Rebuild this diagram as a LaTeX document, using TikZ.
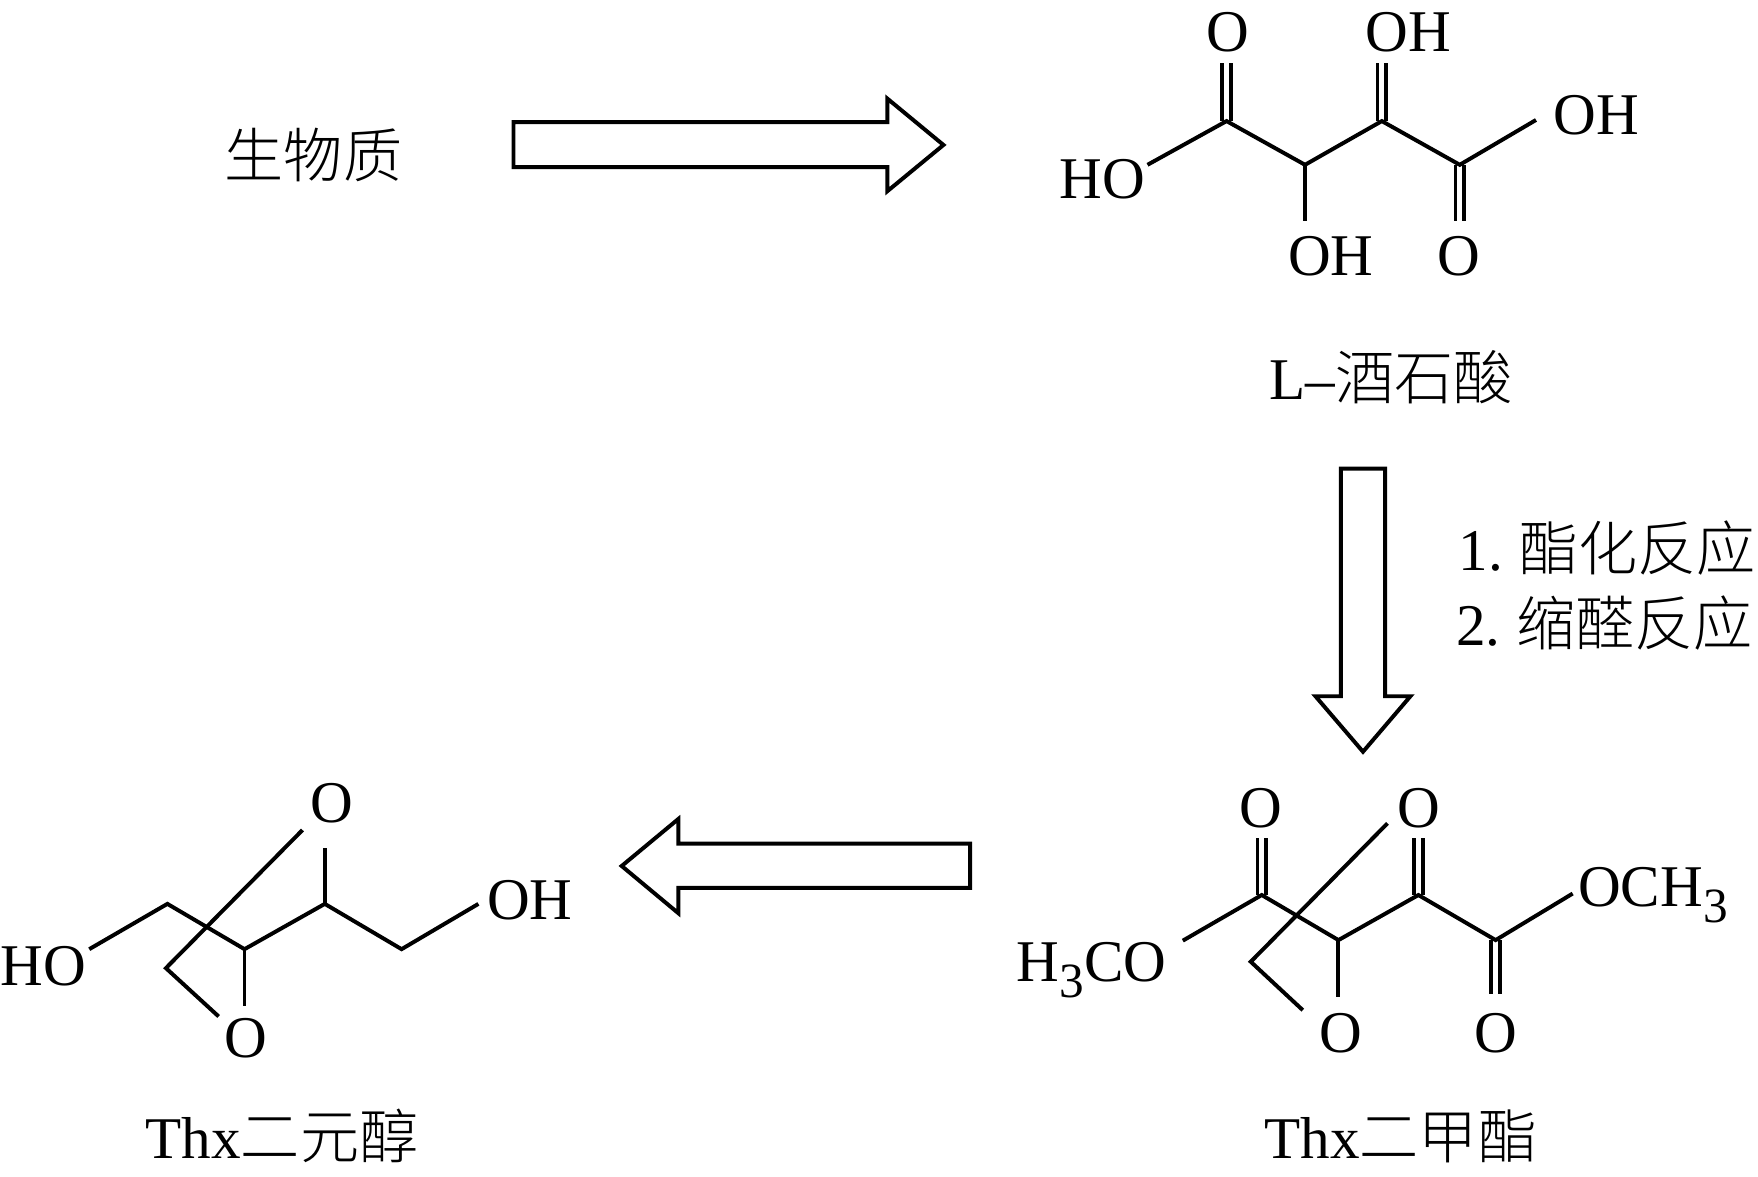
\documentclass[tikz,border=0pt]{standalone}
\usepackage{fontspec}
\setmainfont{Liberation Serif}
\newfontfamily\cjk{Noto Sans CJK SC Light}
\newcommand\fs{\fontsize{15}{18}\selectfont}
\newcommand\chemsub[1]{\raisebox{-4.3pt}{\fontsize{12.5}{12.5}\selectfont #1}}
\newcommand\dbond[2]{%
  \draw[dbl] ([xshift=-0.039cm]#1) -- ([xshift=-0.039cm]#2);
  \draw[dbl] ([xshift=0.039cm]#1) -- ([xshift=0.039cm]#2);}
\begin{document}
\begin{tikzpicture}[x=0.01cm,y=-0.01cm,
  bond/.style={line width=1.0pt},
  dbl/.style={line width=0.9pt},
  blockarrow/.style={line width=1.0pt, miter limit=10},
  lab/.style={inner sep=0pt, font=\fs, text height=9.9pt, text depth=0pt},
  txt/.style={inner sep=0pt, font=\fs, text height=11.4pt, text depth=0pt},
]
\useasboundingbox (0,0) rectangle (1568,1049);

% ---------- biomass ----------
\node[txt] (bio) at (279.6,138) {\cjk 生物质};

% ---------- right block arrow ----------
\draw[blockarrow] (458,109) -- (791.5,109) -- (791.5,88) -- (841.5,129.3)
  -- (791.5,170.5) -- (791.5,149) -- (458,149) -- cycle;

% ---------- L-tartaric acid ----------
\coordinate (tC1) at (1094,108);
\coordinate (tC2) at (1164,147);
\coordinate (tC3) at (1232.5,108);
\coordinate (tC4) at (1302,147);
\coordinate (tHOe) at (1023.5,147);
\coordinate (tOHe) at (1370,107);
\coordinate (tC1u) at (1094,56.5);
\coordinate (tC3u) at (1232.5,56.5);
\coordinate (tC2d) at (1164,197.5);
\coordinate (tC4d) at (1302,197.5);
\draw[bond] (tHOe) -- (tC1) -- (tC2) -- (tC3) -- (tC4) -- (tOHe);
\draw[bond] (tC2) -- (tC2d);
\dbond{tC1}{tC1u}
\dbond{tC3}{tC3u}
\dbond{tC4}{tC4d}
\node[lab] (tO1) at (1095.5,28.2) {O};
\node[lab] (tOH1) at (1256,28.2) {OH};
\node[lab] (tOH2) at (1424,102.5) {OH};
\node[lab] (tHO) at (983,159.5) {HO};
\node[lab] (tOH3) at (1187,228) {OH};
\node[lab] (tO2) at (1301.5,228.7) {O};
\node[txt] (tname) at (1241,336) {L–{\cjk 酒石酸}};

% ---------- down block arrow ----------
\draw[blockarrow] (1196,418) -- (1235.5,418) -- (1235.5,621) -- (1258,621)
  -- (1215.7,670.5) -- (1173.3,621) -- (1196,621) -- cycle;
\node[txt, anchor=west] (cond1) at (1300.6,489) {1.\kern4pt{\cjk 酯化反应}};
\node[txt, anchor=west] (cond2) at (1298,556) {2.\kern4pt{\cjk 缩醛反应}};

% ---------- Thx dimethyl ester ----------
\coordinate (eCa) at (1125.4,798.3);
\coordinate (eCb) at (1193.8,838.5);
\coordinate (eCc) at (1265.1,798.3);
\coordinate (eCd) at (1334,838.5);
\coordinate (eLe) at (1055,839);
\coordinate (eRe) at (1402.7,797);
\coordinate (eCau) at (1125.4,747.8);
\coordinate (eCcu) at (1265.1,747.8);
\coordinate (eCdd) at (1334,887);
\coordinate (eCbd) at (1193.8,889);
\coordinate (er1) at (1237.5,734.4);
\coordinate (er2) at (1115.6,857.8);
\coordinate (er3) at (1162,901);
\draw[bond] (eLe) -- (eCa) -- (eCb) -- (eCc) -- (eCd) -- (eRe);
\draw[bond] (eCb) -- (eCbd);
\draw[bond] (er1) -- (er2) -- (er3);
\dbond{eCa}{eCau}
\dbond{eCc}{eCcu}
\dbond{eCd}{eCdd}
\node[lab] (eO1) at (1124.5,721) {O};
\node[lab] (eO2) at (1265.7,721) {O};
\node[lab, anchor=east] (eH3CO) at (1041,857.6) {H\chemsub{3}CO};
\node[lab, anchor=west] (eOCH3) at (1407,790.7) {OCH\chemsub{3}};
\node[lab] (eO3) at (1195.9,921.5) {O};
\node[lab] (eO4) at (1334,921.5) {O};
\node[txt] (ename) at (1249.5,1013.5) {Thx{\cjk 二甲酯}};

% ---------- left block arrow ----------
\draw[blockarrow] (865.2,752.5) -- (605,752.5) -- (605,730.5) -- (554.5,772.4)
  -- (605,814.5) -- (605,792) -- (865.2,792) -- cycle;

% ---------- Thx diol ----------
\coordinate (dC1) at (149.3,806.2);
\coordinate (dC2) at (218.1,846.6);
\coordinate (dC3) at (289.7,806.2);
\coordinate (dC4) at (358.2,846.6);
\coordinate (dLe) at (79.6,846.6);
\coordinate (dRe) at (426.7,806.2);
\coordinate (dC3u) at (289.7,756.6);
\coordinate (dC2d) at (218.1,897);
\coordinate (ds1) at (269.8,740.3);
\coordinate (ds2) at (148,863.5);
\coordinate (ds3) at (195,906.6);
\draw[bond] (dLe) -- (dC1) -- (dC2) -- (dC3) -- (dC4) -- (dRe);
\draw[bond] (dC3) -- (dC3u);
\draw[bond] (dC2) -- (dC2d);
\draw[bond] (ds1) -- (ds2) -- (ds3);
\node[lab, anchor=east] (dHO) at (77.6,862) {HO};
\node[lab, anchor=west] (dOH) at (433.8,802.7) {OH};
\node[lab] (dO1) at (296,716.5) {O};
\node[lab] (dO2) at (218.9,926) {O};
\node[txt] (dname) at (251.5,1013.5) {Thx{\cjk 二元醇}};
\end{tikzpicture}
\end{document}
